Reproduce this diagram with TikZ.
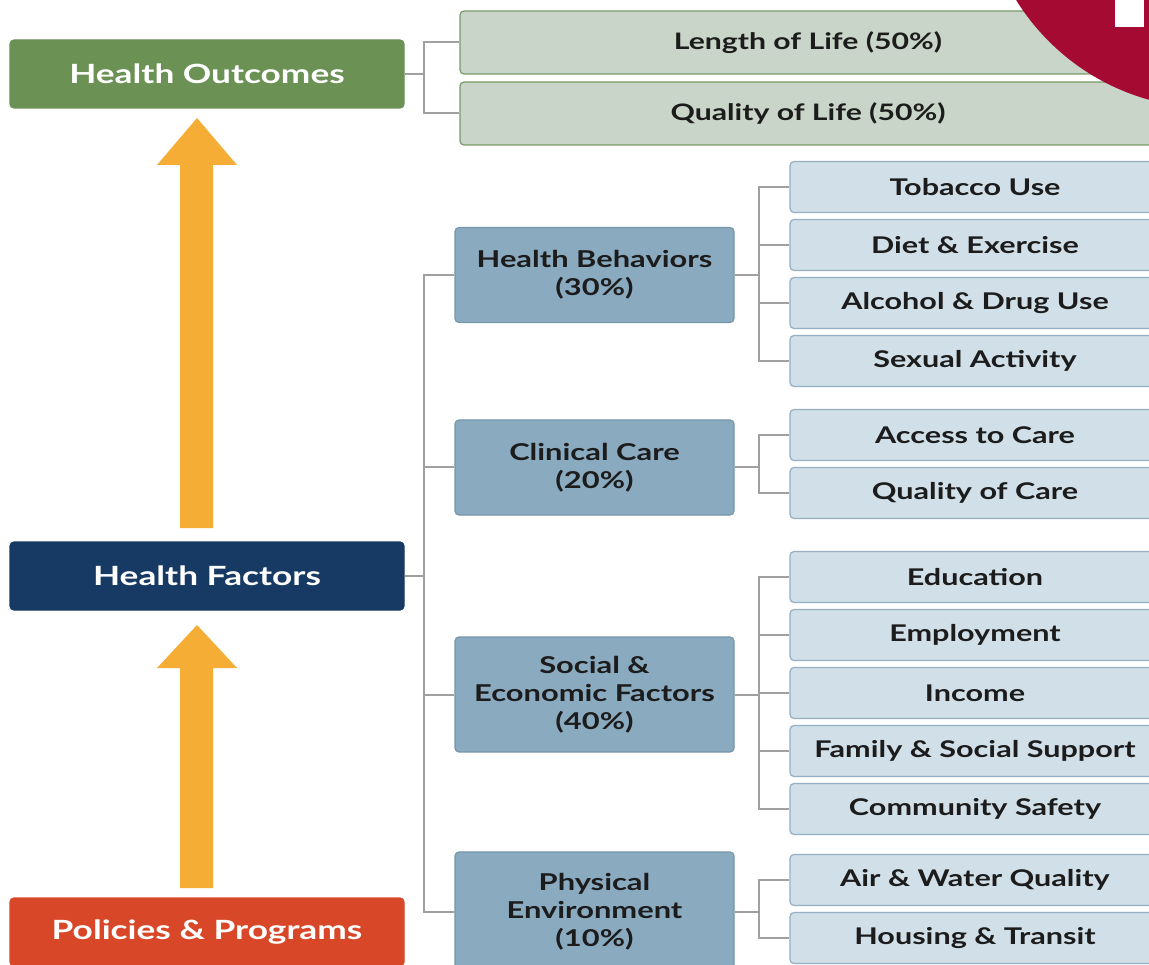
\documentclass[tikz,border=0pt]{standalone}
\usepackage{fontspec}
\setmainfont{Lato}[FakeStretch = 1.33]
\usetikzlibrary{calc}

\definecolor{outgreen}{RGB}{107,145,85}
\definecolor{factnavy}{RGB}{22,58,99}
\definecolor{polred}{RGB}{216,72,40}
\definecolor{arroworange}{RGB}{245,173,53}
\definecolor{lifefill}{RGB}{200,213,200}
\definecolor{lifeline}{RGB}{122,154,106}
\definecolor{midblue}{RGB}{138,170,192}
\definecolor{midline}{RGB}{118,150,172}
\definecolor{leafblue}{RGB}{208,223,232}
\definecolor{leafline}{RGB}{150,175,195}
\definecolor{linkgray}{RGB}{160,160,160}
\definecolor{badge}{RGB}{165,11,50}
\definecolor{ink}{RGB}{28,28,28}

\begin{document}
\begin{tikzpicture}
      [x = 1pt, y = -1pt,
      box/.style= {
         draw,
         rounded corners = 4pt,
         line width = 1.2pt,
         inner sep = 0pt,
         align = center
      },
      main/.style= {
         box,
         text = white,
         minimum width = 394pt,
         minimum height = 68pt,
         font = \bfseries\fontsize{26.5}{31}\selectfont
      },
      life/.style= {
         box,
         draw = lifeline,
         fill = lifefill,
         text = ink,
         minimum width = 696pt,
         minimum height = 63pt,
         font = \bfseries\fontsize{22.7}{28}\selectfont
      },
      group/.style= {
         box,
         draw = midline,
         fill = midblue,
         text = ink,
         minimum width = 279pt,
         font = \bfseries\fontsize{23.2}{28}\selectfont
      },
      leaf/.style= {
         box,
         draw = leafline,
         fill = leafblue,
         text = ink,
         minimum width = 370pt,
         minimum height = 51pt,
         font = \bfseries\fontsize{23}{28}\selectfont
      },
      link/.style= {linkgray, line width = 2pt},
      uparrow/.style= {fill = arroworange}]
      \useasboundingbox (0, 0) rectangle (1149, 965);
      \fill[white] (0, 0) rectangle (1149, 965);
      \clip (0, 0) rectangle (1149, 965);

      % left column
      \node[main, draw = outgreen, fill = outgreen] (hout) at (207, 74) {Health Outcomes};
      \node[main, draw = factnavy, fill = factnavy] (hfac) at (207, 576) {Health Factors};
      \node[main, draw = polred, fill = polred] (pol) at (207, 932) {Policies \& Programs};

      \fill[uparrow] (180, 528) -- (180, 165) -- (157, 165) -- (197, 118)
         -- (237, 165) -- (213, 165) -- (213, 528) -- cycle;
      \fill[uparrow] (180, 888) -- (180, 668) -- (157, 668) -- (197, 625)
         -- (237, 668) -- (213, 668) -- (213, 888) -- cycle;

      % outcomes
      \node[life] (len) at (808, 42.5) {Length of Life (50\%)};
      \node[life] (qol) at (808, 113.5) {Quality of Life (50\%)};

      % factor groups
      \node[group, minimum height = 95pt] (beh) at (594.5, 275) {Health Behaviors\\(30\%)};
      \node[group, minimum height = 95pt] (care) at (594.5, 467.5) {Clinical Care\\(20\%)};
      \node[group, minimum height = 115pt] (soc) at (594.5, 694.5) {Social \&\\Economic Factors\\(40\%)};
      \node[group, minimum height = 120pt] (env) at (594.5, 912) {Physical\\Environment\\(10\%)};

      % leaves
      \node[leaf] (tob) at (975, 187) {Tobacco Use};
      \node[leaf] (diet) at (975, 245) {Diet \& Exercise};
      \node[leaf] (alc) at (975, 303) {Alcohol \& Drug Use};
      \node[leaf] (sex) at (975, 361) {Sexual Activity};
      \node[leaf] (acc) at (975, 435) {Access to Care};
      \node[leaf] (qoc) at (975, 493) {Quality of Care};
      \node[leaf] (edu) at (975, 577) {Education};
      \node[leaf] (emp) at (975, 635) {Employment};
      \node[leaf] (inc) at (975, 693) {Income};
      \node[leaf] (fam) at (975, 751) {Family \& Social Support};
      \node[leaf] (safe) at (975, 809) {Community Safety};
      \node[leaf] (air) at (975, 880) {Air \& Water Quality};
      \node[leaf] (hous) at (975, 938) {Housing \& Transit};

      % connectors
      \draw[link] (hout.east) -- ++(19, 0) |- (len.west);
      \draw[link] (hout.east) -- ++(19, 0) |- (qol.west);
      \foreach \g in {beh, care, soc, env}
         \draw[link] (hfac.east) -- ++(19, 0) |- (\g.west);
      \foreach \l in {tob, diet, alc, sex}
         \draw[link] (beh.east) -- ++(24, 0) |- (\l.west);
      \foreach \l in {acc, qoc}
         \draw[link] (care.east) -- ++(24, 0) |- (\l.west);
      \foreach \l in {edu, emp, inc, fam, safe}
         \draw[link] (soc.east) -- ++(24, 0) |- (\l.west);
      \foreach \l in {air, hous}
         \draw[link] (env.east) -- ++(24, 0) |- (\l.west);

      % corner badge
      \fill[badge] (1210, -120) circle[radius = 228pt];
      \fill[white] (1115, -5) rectangle (1144, 27);
   \end{tikzpicture}
\end{document}
